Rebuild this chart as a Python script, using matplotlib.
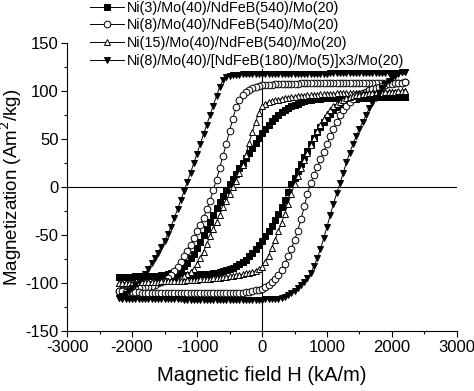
import matplotlib
matplotlib.use("Agg")
import matplotlib.pyplot as plt
from matplotlib.ticker import MultipleLocator

plt.rcParams['font.family'] = ['Liberation Sans', 'DejaVu Sans']
plt.rcParams['axes.unicode_minus'] = False

# Field sweep (kA/m): descending branch from +2200 to -2200
H_DESC = [2200, 2150, 2100, 2050, 2000, 1950, 1900, 1850, 1800, 1750,
          1700, 1650, 1600, 1550, 1500, 1450, 1400, 1350, 1300, 1250,
          1200, 1150, 1100, 1050, 1000, 950, 900, 850, 800, 750,
          700, 650, 600, 550, 500, 450, 400, 350, 300, 250,
          200, 150, 100, 50, 0, -50, -100, -150, -200, -250,
          -300, -350, -400, -450, -500, -550, -600, -650, -700, -750,
          -800, -850, -900, -950, -1000, -1050, -1100, -1150, -1200, -1250,
          -1300, -1350, -1400, -1450, -1500, -1550, -1600, -1650, -1700, -1750,
          -1800, -1850, -1900, -1950, -2000, -2050, -2100, -2150, -2200]
# ascending branch from -2200 to +2200
H_ASC = [-2200, -2150, -2100, -2050, -2000, -1950, -1900, -1850, -1800, -1750,
         -1700, -1650, -1600, -1550, -1500, -1450, -1400, -1350, -1300, -1250,
         -1200, -1150, -1100, -1050, -1000, -950, -900, -850, -800, -750,
         -700, -650, -600, -550, -500, -450, -400, -350, -300, -250,
         -200, -150, -100, -50, 0, 50, 100, 150, 200, 250,
         300, 350, 400, 450, 500, 550, 600, 650, 700, 750,
         800, 850, 900, 950, 1000, 1050, 1100, 1150, 1200, 1250,
         1300, 1350, 1400, 1450, 1500, 1550, 1600, 1650, 1700, 1750,
         1800, 1850, 1900, 1950, 2000, 2050, 2100, 2150, 2200]

LABELS = ["Ni(3)/Mo(40)/NdFeB(540)/Mo(20)",
          "Ni(8)/Mo(40)/NdFeB(540)/Mo(20)",
          "Ni(15)/Mo(40)/NdFeB(540)/Mo(20)",
          "Ni(8)/Mo(40)/[NdFeB(180)/Mo(5)]x3/Mo(20)"]

# Ni(3) - filled squares
M_SQ_DESC = [94, 93.5, 93.5, 93.5, 93.5, 93.5, 93.5, 93.5, 93.5, 93.5,
             93.5, 93.5, 93.5, 93.5, 93, 93, 93, 93, 93, 93,
             93, 93, 93, 92.5, 92.5, 92.5, 92, 92, 91.5, 91,
             90.5, 89.5, 88.5, 87, 85.5, 84, 82, 80, 78, 75.5,
             72.5, 69, 65, 61, 56.5, 51.5, 46, 41, 36, 30.5,
             25, 19.5, 14, 8.5, 3, -3, -9, -15.5, -22, -29,
             -36, -43, -50, -57, -63, -69, -74, -78.5, -82, -84.5,
             -86.5, -88, -89.5, -90.5, -91, -91.5, -92, -92, -92, -92.5,
             -92.5, -92.5, -92.5, -92.5, -93, -93, -93, -93, -93]
M_SQ_ASC = [-93, -93, -93, -93, -93, -92.5, -92.5, -92.5, -92.5, -92.5,
            -92.5, -92.5, -92.5, -92.5, -92, -92, -92, -92, -92, -91.5,
            -91.5, -91.5, -91, -91, -91, -90.5, -90.5, -90, -90, -89.5,
            -89, -88.5, -87.5, -86.5, -85.5, -84, -82, -80, -78, -75.5,
            -72, -68.5, -64, -60, -55.5, -50.5, -45.5, -40, -34.5, -28,
            -21, -13, -5, 3, 10, 17, 24, 31, 38, 44.5,
            51, 57, 62.5, 67.5, 72, 76.5, 80, 83, 86, 88,
            89.5, 90.5, 91.5, 92, 92.5, 93, 93, 93.5, 93.5, 93.5,
            93.5, 93.5, 93.5, 93.5, 94, 94, 94, 94, 94]

# Ni(8) - open circles
M_CI_DESC = [109, 108.5, 108.5, 108.5, 108.5, 108.5, 108.5, 108.5, 108.5, 108.5,
             108.5, 108.5, 108.5, 108.5, 108.5, 108, 108, 108, 108, 108,
             108, 108, 108, 108, 108, 108, 108, 108, 108, 108,
             108, 108, 108, 107.5, 107.5, 107.5, 107.5, 107.5, 107, 107,
             107, 106.5, 106.5, 106, 106, 105, 104, 103, 101.5, 99.5,
             96, 91, 83, 71, 58.5, 45, 32.5, 20.5, 8, -3,
             -14, -23, -32, -39, -46, -53, -60, -66, -72, -78,
             -83, -87, -91, -94, -97, -98.5, -100, -101.5, -102.5, -103.5,
             -104, -104.5, -105, -105.5, -106, -106.5, -107, -107, -107.5]
M_CI_ASC = [-107.5, -108, -108.5, -108.5, -109, -109, -109, -109.5, -109.5, -109.5,
            -109.5, -109.5, -110, -110, -110, -110, -110, -110, -110, -110,
            -110, -110, -110, -110, -110, -110, -110, -110, -110, -110,
            -110, -110, -110, -110, -110, -110, -110, -109.5, -109.5, -109,
            -108.5, -108, -107, -106.5, -105.5, -104, -102, -99, -95, -91,
            -86, -80, -72, -64, -55, -45, -33, -20, -6.5, 4.5,
            13, 21, 29, 37, 45, 53, 61, 68, 75, 80,
            85, 89, 92, 94.5, 96.5, 98, 99.5, 101, 102, 103.5,
            104.5, 105.5, 106, 107, 107.5, 108, 108, 108.5, 109]

# Ni(15) - open up-triangles
M_TU_DESC = [100, 99.5, 99.5, 99.5, 99.5, 99, 99, 99, 99, 98.5,
             98.5, 98.5, 98.5, 98.5, 98, 98, 98, 98, 97.5, 97.5,
             97.5, 97.5, 97, 97, 97, 96.5, 96.5, 96, 96, 95.5,
             95.5, 95, 95, 94.5, 94, 93.5, 93, 92.5, 92, 91,
             90.5, 89.5, 88.5, 87, 84, 77, 68, 57.5, 46, 33.5,
             23, 15, 7, 0, -7, -14, -21, -28.5, -36, -43.5,
             -51, -59, -67, -73.5, -80, -84.5, -88, -90.5, -92.5, -94,
             -95.5, -96.5, -97, -97.5, -98, -98, -98.5, -98.5, -98.5, -99,
             -99, -99, -99, -99.5, -99.5, -99.5, -99.5, -100, -100]
M_TU_ASC = [-100, -100, -99.5, -99.5, -99.5, -99.5, -99, -99, -99, -99,
            -98.5, -98.5, -98.5, -98, -98, -98, -97.5, -97.5, -97, -97,
            -97, -96.5, -96.5, -96, -96, -95.5, -95.5, -95, -95, -94.5,
            -94.5, -94, -93.5, -93, -92.5, -92, -91.5, -91, -90.5, -89.5,
            -89, -88, -87, -85.5, -83, -77.5, -71, -63, -55, -46,
            -37, -27.5, -17, -7, 3, 11.5, 20, 28, 36, 43.5,
            51, 58.5, 65, 71, 76.5, 80.5, 84, 87, 89, 91,
            92.5, 93.5, 94.5, 95.5, 96, 96.5, 97, 97.5, 98, 98,
            98.5, 98.5, 99, 99, 99.5, 99.5, 100, 100, 100]

# multilayer - filled down-triangles
M_TD_DESC = [120, 119.5, 119, 119, 118.5, 118.5, 118.5, 118.5, 118.5, 118.5,
             118.5, 118.5, 118.5, 118.5, 118.5, 118.5, 118.5, 118.5, 118.5, 118.5,
             118.5, 118.5, 118.5, 118.5, 118, 118, 118, 118, 118, 118,
             118, 118, 118, 118, 118, 118, 118, 118, 118, 118,
             118, 118, 118, 118, 118, 117.5, 117.5, 117.5, 117.5, 117.5,
             117.5, 117, 117, 116.5, 116, 114.5, 111.5, 104.5, 95, 85,
             75, 65, 55, 45, 35, 25, 15, 5.5, -4, -13.5,
             -23, -32, -41, -49, -56, -62, -68, -74, -79, -85,
             -90, -94.5, -98, -101.5, -105, -108, -111, -113.5, -115.5]
M_TD_ASC = [-115.5, -116, -116, -116.5, -116.5, -116.5, -116.5, -116.5, -116.5, -116.5,
            -116.5, -116.5, -116.5, -116.5, -116.5, -116.5, -116.5, -116.5, -116.5, -116.5,
            -117, -117, -117, -117, -117, -117, -117, -117, -117, -117,
            -117, -117, -117, -117, -117, -117, -117, -117, -117, -117,
            -117, -117, -117, -117, -117, -116.5, -116.5, -116.5, -116, -116,
            -115.5, -114, -112, -110, -107.5, -105, -102, -98.5, -94, -89,
            -82, -74, -64, -53, -41, -29, -17, -6, 4, 15,
            26, 36, 45, 53, 61, 68, 75, 82, 88, 93,
            98, 103, 107, 110.5, 113.5, 116, 118, 119.5, 120]

SERIES = [
    (LABELS[0], M_SQ_DESC, M_SQ_ASC, dict(marker='s', mfc='black', mec='black')),
    (LABELS[1], M_CI_DESC, M_CI_ASC, dict(marker='o', mfc='white', mec='black')),
    (LABELS[2], M_TU_DESC, M_TU_ASC, dict(marker='^', mfc='white', mec='black')),
    (LABELS[3], M_TD_DESC, M_TD_ASC, dict(marker='v', mfc='black', mec='black')),
]

fig = plt.figure(figsize=(4.74, 3.91), dpi=100)
ax = fig.add_axes([0.1414, 0.1522, 0.8227, 0.7378])

ax.axhline(0, color='black', lw=0.8, zorder=1)
ax.axvline(0, color='black', lw=0.8, zorder=1)

handles = []
for label, mdesc, masc, st in SERIES:
    h, = ax.plot(H_DESC + H_ASC, mdesc + masc, color='black', lw=0.7,
                 ms=4.8, mew=0.7, label=label, zorder=2, **st)
    handles.append(h)

ax.set_xlim(-3000, 3000)
ax.set_ylim(-150, 150)
ax.xaxis.set_major_locator(MultipleLocator(1000))
ax.xaxis.set_minor_locator(MultipleLocator(500))
ax.yaxis.set_major_locator(MultipleLocator(50))
ax.yaxis.set_minor_locator(MultipleLocator(25))
ax.tick_params(which='major', direction='out', length=4, width=0.8,
               labelsize=12, pad=2)
ax.tick_params(which='minor', direction='out', length=2.2, width=0.8)
for s in ['top', 'right']:
    ax.spines[s].set_visible(False)
for s in ['left', 'bottom']:
    ax.spines[s].set_linewidth(0.8)

ax.set_xlabel("Magnetic field H (kA/m)", fontsize=14.5, labelpad=8)
ax.set_ylabel("Magnetization (Am$^2$/kg)", fontsize=13.5)
ax.yaxis.set_label_coords(-0.11, 0.5)

leg = ax.legend(handles=handles, loc='upper left', bbox_to_anchor=(0.055, 1.152),
                fontsize=10.4, frameon=True, framealpha=1, edgecolor='none',
                facecolor='white', borderpad=0.1, handlelength=2.35,
                handletextpad=0.2, labelspacing=0.26, numpoints=1,
                borderaxespad=0)
leg.get_frame().set_linewidth(0)
leg.set_zorder(5)

fig.savefig("out.png", dpi=100)
